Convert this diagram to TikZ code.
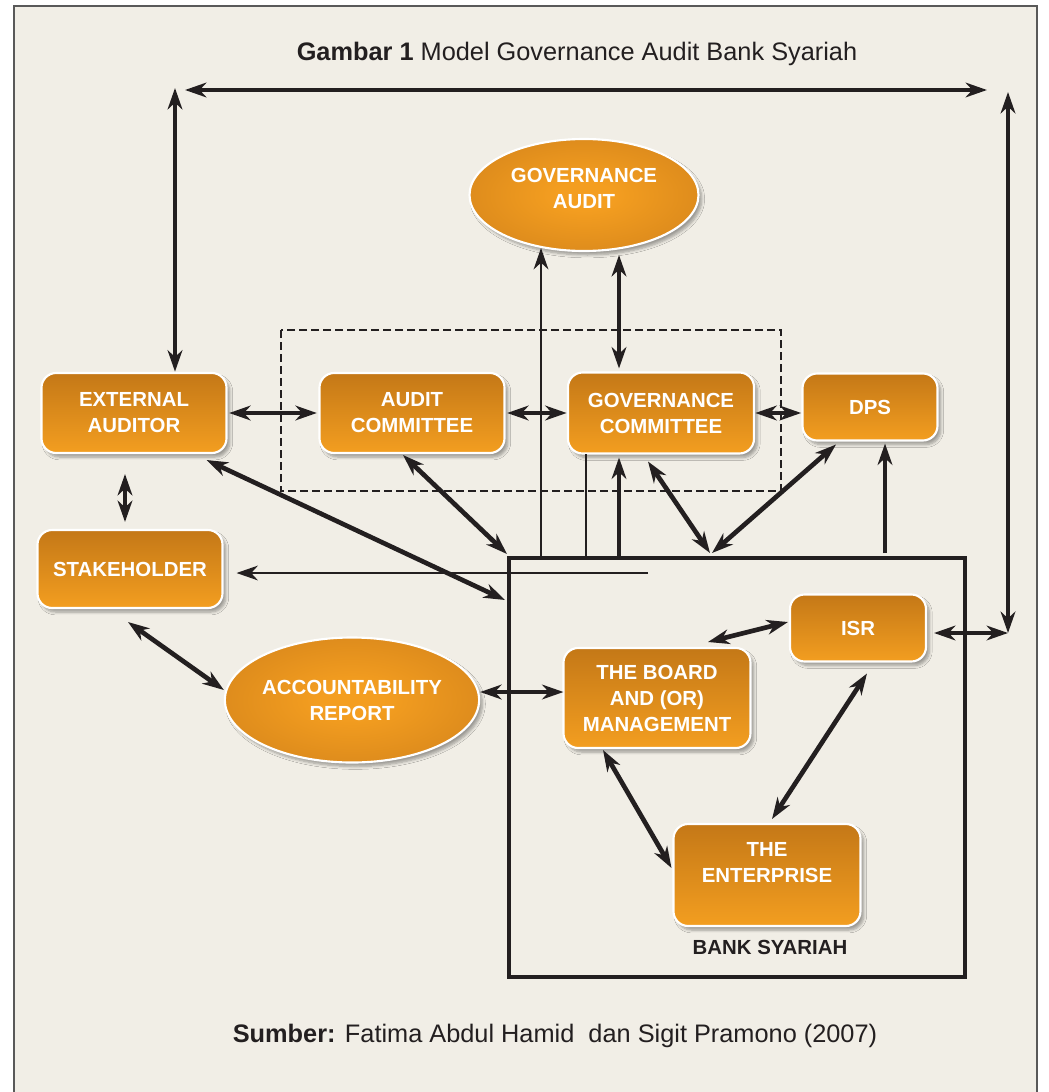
\documentclass[tikz,border=0pt]{standalone}
\usepackage{fontspec}
\setmainfont{Liberation Sans}
\usetikzlibrary{arrows.meta,shapes.geometric,shadows.blur,calc}
\definecolor{panel}{HTML}{F1EEE6}
\definecolor{boxtop}{HTML}{C47817}
\definecolor{boxbot}{HTML}{F39E20}
\definecolor{ellin}{HTML}{F49E20}
\definecolor{ellout}{HTML}{C27518}
\definecolor{ink}{HTML}{231F20}
\pgfdeclareradialshading{ellshade}{\pgfpoint{0bp}{0bp}}{color(0bp)=(ellin); color(6bp)=(ellin); color(50bp)=(ellout)}
\newcommand{\boxfont}{\fontsize{15.3pt}{19.5pt}\selectfont\bfseries}
\begin{document}
\begin{tikzpicture}[x=0.75pt,y=-0.75pt,
  shd/.style={blur shadow={shadow xshift=2.5pt,shadow yshift=-3pt,shadow blur steps=6,shadow opacity=35}},
  box/.style={rectangle,rounded corners=11pt,draw=white,line width=1.6pt,top color=boxtop,bottom color=boxbot,text=white,font=\boxfont,align=center,inner sep=0pt,outer sep=0pt,shd},
  ell/.style={ellipse,draw=white,line width=1.6pt,shading=ellshade,text=white,font=\boxfont,align=center,inner sep=0pt,outer sep=0pt,shd},
  thk/.style={line width=3.5pt,draw=ink},
  thn/.style={line width=2pt,draw=ink},
  >={Stealth[length=16pt,width=11pt,inset=5pt]}
]
\useasboundingbox (0,0) rectangle (1049,1092);
\fill[white] (0,0) rectangle (1049,1092);
\fill[panel] (14,6) rectangle (1037,1092);
\draw[gray!70!black,line width=0.8pt] (14,1092) -- (14,6) -- (1037,6) -- (1037,1092);

% title and source
\node[anchor=base,text=ink,font=\fontsize{19pt}{23pt}\selectfont] (title) at (577,60) {\textbf{Gambar 1} Model Governance Audit Bank Syariah};
\node[anchor=base,text=ink,font=\fontsize{19pt}{23pt}\selectfont] (source) at (555,1042) {\textbf{Sumber:} Fatima Abdul Hamid\ \ dan Sigit Pramono (2007)};

% dashed committee frame
\draw[ink,line width=1.6pt,dash pattern=on 6pt off 3pt] (281,330) rectangle (781,491);

% bank syariah frame
\node[rectangle,draw=ink,line width=3.2pt,minimum width=342pt,minimum height=314.25pt,inner sep=0pt,outer sep=0pt] (bank) at (737,767.5) {};
\node[text=ink,font=\boxfont] (banklbl) at (770,947) {BANK SYARIAH};

% nodes
\node[box,minimum width=138.75pt,minimum height=60pt] (ea) at (134,413) {EXTERNAL\\AUDITOR};
\node[box,minimum width=138.75pt,minimum height=58.5pt] (sh) at (130,569) {STAKEHOLDER};
\node[box,minimum width=138.75pt,minimum height=60pt] (ac) at (412,413) {AUDIT\\COMMITTEE};
\node[box,minimum width=139.5pt,minimum height=60.75pt] (gc) at (661,413) {GOVERNANCE\\COMMITTEE};
\node[box,minimum width=101.25pt,minimum height=50.25pt] (dps) at (870,407) {DPS};
\node[box,minimum width=102pt,minimum height=50.25pt] (isr) at (858,628) {ISR};
\node[box,minimum width=140.25pt,minimum height=75pt] (bd) at (657,698) {THE BOARD\\AND (OR)\\MANAGEMENT};
\node[box,minimum width=140.25pt,minimum height=76.5pt] (ent) at (767,875) {THE\\ENTERPRISE\\\mbox{}};
\node[ell,minimum width=171.75pt,minimum height=84pt] (ga) at (584,195) {GOVERNANCE\\AUDIT\\[-10pt]\mbox{}};
\node[ell,minimum width=172.5pt,minimum height=93.75pt] (ar) at (352,700) {ACCOUNTABILITY\\REPORT};

% outer loop
\coordinate (tl) at (185,90);
\coordinate (tr) at (987,90);
\coordinate (vl) at (175,88);
\coordinate (vr) at (1008,92);
\coordinate (cr) at (1008,633);
\draw[thk,<->] (tl) -- (tr);
\draw[thk,<->,shorten >=1pt] (vl) -- (vl |- ea.north);
\draw[thk,<->] (vr) -- (cr);
\draw[thk,<->,shorten <=6pt] (cr -| isr.east) -- (cr);

% committee row
\draw[thk,<->,shorten <=2pt,shorten >=2pt] (ea.east) -- (ac.west);
\draw[thk,<->,shorten <=2pt,shorten >=1pt] (ac.east) -- (gc.west);
\draw[thk,<->,shorten <=1pt,shorten >=1pt] (gc.east) -- (gc.east -| dps.west);
\draw[thk,<->] ($(ea.south)+(-9,21)$) -- ($(sh.north)+(-5,-8)$);

% links to bank syariah
\draw[thk,<->] ($(ea.south east)+(-20,7)$) -- ($(bank.north west)+(-4,42)$);
\draw[thk,<->] ($(ac.south)+(-9,2)$) -- ($(bank.north west)+(-2,-4)$);
\draw[thn,->] ($(bank.north west)+(139,15)$) -- ($(sh.east)+(14,4)$);
\draw[thn,->] ($(bank.north west)+(32,0)$) -- ($(ga.center)+(-43,53)$);
\draw[thk,<->] ($(ga.center)+(35,60)$) -- ($(gc.north)+(-42,-4)$);
\draw[thn] ($(bank.north west)+(77,0)$) -- ($(gc.south)+(-75,0)$);
\draw[thk,->] ($(bank.north west)+(110,0)$) -- ($(gc.south)+(-42,4)$);
\draw[thk,<->] ($(gc.south)+(-13,8)$) -- ($(bank.north west)+(201,-5)$);
\draw[thk,<->] ($(dps.south)+(-34,4)$) -- ($(bank.north west)+(203,-5)$);
\draw[thk,->] ($(bank.north west)+(376,-5)$) -- ($(dps.south)+(15,3)$);

% inside bank
\draw[thk,<->] ($(bd.north)+(51,-6)$) -- ($(isr.west)+(-2,-6)$);
\draw[thk,<->] ($(isr.south)+(9,12)$) -- ($(ent.north)+(5,-5)$);
\draw[thk,<->] ($(bd.south)+(-54,2)$) -- ($(ent.west)+(-2,-7)$);
\draw[thk,<->] ($(ar.east)+(1,-8)$) -- ($(bd.west)+(0,-6)$);
\draw[thk,<->] ($(sh.south)+(-2,14)$) -- ($(ar.west)+(-1,-10)$);
\end{tikzpicture}
\end{document}
